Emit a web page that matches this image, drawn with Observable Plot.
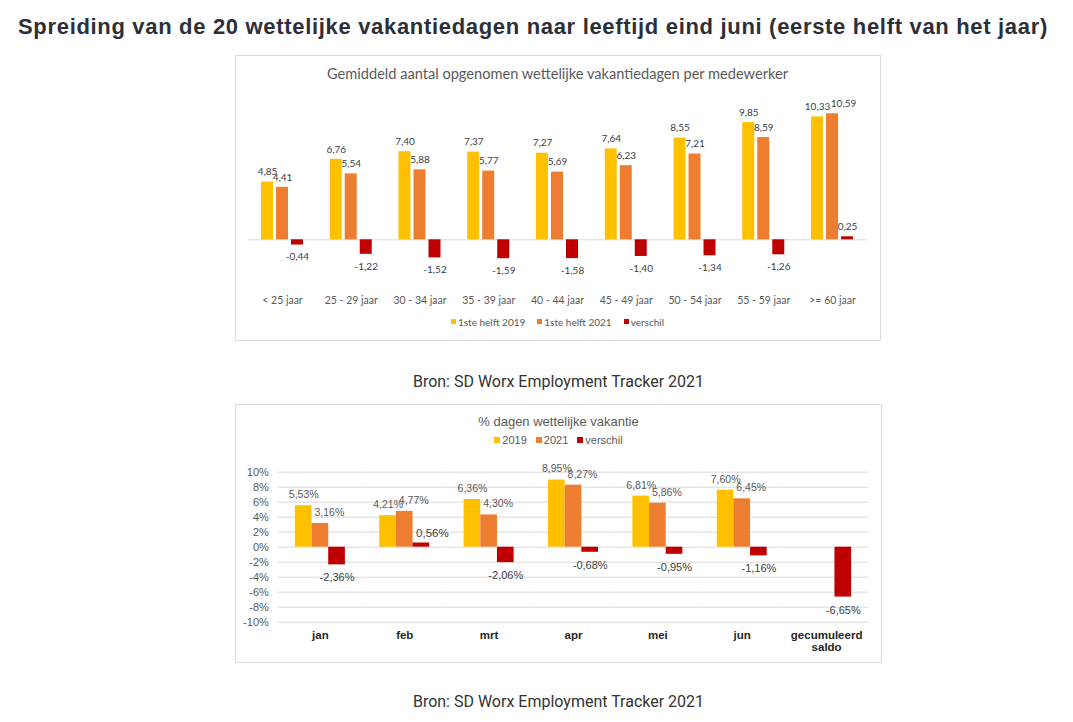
<!DOCTYPE html>
<html>
<head>
<meta charset="utf-8">
<script src="https://cdn.jsdelivr.net/npm/d3@7"></script>
<script src="https://cdn.jsdelivr.net/npm/@observablehq/plot@0.6"></script>
<style>
  html, body { margin: 0; padding: 0; background: #fff; }
  body { position: relative; width: 1073px; height: 722px; overflow: hidden; }
  .abs { position: absolute; white-space: nowrap; }
  #title { left: 18px; top: 15px; font: bold 22px/24px "Liberation Sans", Arial, sans-serif; letter-spacing: 0.68px; color: #2c2f3a; }
  .box { position: absolute; box-sizing: border-box; border: 1px solid #dcdcdc; }
  .caption { font: 16px/18px Roboto, sans-serif; color: #333; text-align: center; }
  .legend { display: flex; justify-content: center; align-items: center; }
  .legend .item { display: flex; align-items: center; }
  .legend .sw { display: inline-block; width: 5px; height: 5px; margin-right: 2px; }
  #c1title { font: 14.6px/16px Lato, sans-serif; color: #595959; text-align: center; }
  #c1legend { font: 10px/12px Lato, sans-serif; color: #595959; gap: 12px; }
  #c2title { font: 13px/16px "Liberation Sans", Arial, sans-serif; color: #595959; text-align: center; }
  #c2legend { font: 11px/12px "Liberation Sans", Arial, sans-serif; color: #595959; gap: 9px; }
  #c2legend .sw { width: 6px; height: 6px; }
  #plot1 g[aria-label="fx-axis tick label"] { font-size: 10.5px; fill: #595959; }
  #plot2 g[aria-label="fx-axis tick label"] { font-weight: bold; font-size: 11.5px; fill: #262626; }
  #plot2 g[aria-label="y-axis tick label"] { font-size: 11px; fill: #595959; }
</style>
</head>
<body>
<div id="title" class="abs">Spreiding van de 20 wettelijke vakantiedagen naar leeftijd eind juni (eerste helft van het jaar)</div>

<div class="box" style="left:235px;top:55px;width:646px;height:286px;"></div>
<div id="c1title" class="abs" style="left:235px;top:66px;width:645px;">Gemiddeld aantal opgenomen wettelijke vakantiedagen per medewerker</div>
<div id="plot1" class="abs" style="left:235px;top:55px;"></div>
<div id="c1legend" class="abs legend" style="left:235px;top:315.7px;width:645px;"></div>

<div class="caption abs" style="left:235px;top:372.5px;width:647px;">Bron: SD Worx Employment Tracker 2021</div>

<div class="box" style="left:235px;top:404px;width:647px;height:259px;"></div>
<div id="c2title" class="abs" style="left:235px;top:414.3px;width:647px;">% dagen wettelijke vakantie</div>
<div id="c2legend" class="abs legend" style="left:235px;top:434px;width:647px;"></div>
<div id="plot2" class="abs" style="left:235px;top:404px;"></div>

<div class="caption abs" style="left:235px;top:693px;width:647px;">Bron: SD Worx Employment Tracker 2021</div>

<script>
// ---------- Chart 1 data ----------
const ageGroups = ["< 25 jaar", "25 - 29 jaar", "30 - 34 jaar", "35 - 39 jaar", "40 - 44 jaar", "45 - 49 jaar", "50 - 54 jaar", "55 - 59 jaar", ">= 60 jaar"];
const series1 = ["1ste helft 2019", "1ste helft 2021", "verschil"];
const days2019 = [4.85, 6.76, 7.40, 7.37, 7.27, 7.64, 8.55, 9.85, 10.33];
const days2021 = [4.41, 5.54, 5.88, 5.77, 5.69, 6.23, 7.21, 8.59, 10.59];
const daysDiff = [-0.44, -1.22, -1.52, -1.59, -1.58, -1.40, -1.34, -1.26, 0.25];

// ---------- Chart 2 data ----------
const months = ["jan", "feb", "mrt", "apr", "mei", "jun", "gecumuleerd\nsaldo"];
const series2 = ["2019", "2021", "verschil"];
const pct2019 = [5.53, 4.21, 6.36, 8.95, 6.81, 7.60, null];
const pct2021 = [3.16, 4.77, 4.30, 8.27, 5.86, 6.45, null];
const pctDiff = [-2.36, 0.56, -2.06, -0.68, -0.95, -1.16, -6.65];
const yTicks2 = [-10, -8, -6, -4, -2, 0, 2, 4, 6, 8, 10];

const colors = ["#FFC000", "#ED7D31", "#C00000"];

const fmt = v => v.toFixed(2).replace(".", ",");

// ---------- Build tables ----------
const c1Values = [days2019, days2021, daysDiff];
const c1Data = series1.flatMap((s, si) => ageGroups.map((g, i) => ({group: g, series: s, value: c1Values[si][i]})));

const c2Values = [pct2019, pct2021, pctDiff];
const c2Data = series2.flatMap((s, si) => months.map((m, i) => ({month: m, series: s, value: c2Values[si][i]})))
  .filter(d => d.value != null);

// ---------- Chart 1 ----------
// Excel moved the label of the last 2021 bar to the right to avoid overlap
const lastGroup = ageGroups[ageGroups.length - 1];
const isMoved = d => d.group === lastGroup && d.series === series1[1];
const pos1 = c1Data.filter(d => d.value >= 0);
const plot1 = Plot.plot({
  width: 645, height: 285,
  marginLeft: 12.6, marginRight: 13.6, marginTop: 41.5, marginBottom: 53.1,
  style: {fontFamily: "Lato, sans-serif", fontSize: "10px", color: "#595959", background: "transparent", overflow: "visible"},
  fx: {domain: ageGroups, paddingInner: 0.302, paddingOuter: 0.151, round: false, label: null, tickSize: 0, tickPadding: 9.5, axis: "bottom"},
  x: {domain: series1, padding: 0.2, round: false, axis: null},
  y: {domain: [-4, 12], axis: null},
  color: {domain: series1, range: colors},
  marks: [
    Plot.ruleY([0], {stroke: "#d9d9d9", strokeWidth: 1, insetLeft: -10.4, insetRight: -10.4}),
    Plot.barY(c1Data, {fx: "group", x: "series", y: "value", fill: "series"}),
    Plot.text(pos1.filter(d => !isMoved(d)), {fx: "group", x: "series", y: "value", text: d => fmt(d.value), dy: -10, fill: "#404040"}),
    Plot.text(pos1.filter(isMoved), {fx: "group", x: "series", y: "value", text: d => fmt(d.value), dy: -10, dx: 11, fill: "#404040"}),
    Plot.text(c1Data.filter(d => d.value < 0), {fx: "group", x: "series", y: "value", text: d => fmt(d.value), dy: 12, fill: "#404040"})
  ]
});
document.getElementById("plot1").append(plot1);

// ---------- Chart 2 ----------
const pos2 = c2Data.filter(d => d.value >= 0);
const plot2 = Plot.plot({
  width: 647, height: 258,
  marginLeft: 42.7, marginRight: 13.7, marginTop: 67.7, marginBottom: 40.3,
  style: {fontFamily: "'Liberation Sans', Arial, sans-serif", fontSize: "10.5px", color: "#595959", background: "transparent", overflow: "visible"},
  fx: {domain: months, paddingInner: 0.4076, paddingOuter: 0.2038, round: false, label: null, tickSize: 0, tickPadding: 9, axis: "bottom"},
  x: {domain: series2, padding: 0, round: false, axis: null},
  y: {domain: [-10, 10], ticks: yTicks2, tickFormat: d => `${d}%`, tickSize: 0, tickPadding: 26.6, label: null},
  color: {domain: series2, range: colors},
  marks: [
    Plot.ruleY(yTicks2, {stroke: "#d9d9d9", strokeWidth: 1, insetLeft: -17.19, insetRight: -17.19}),
    Plot.barY(c2Data, {fx: "month", x: "series", y: "value", fill: "series"}),
    Plot.text(pos2.filter(d => d.series === "2019"), {fx: "month", x: "series", y: "value", text: d => fmt(d.value) + "%", dy: -11, fill: "#595959"}),
    Plot.text(pos2.filter(d => d.series === "2021"), {fx: "month", x: "series", y: "value", text: d => fmt(d.value) + "%", dy: -11, dx: 9, fill: "#595959"}),
    Plot.text(pos2.filter(d => d.series === "verschil"), {fx: "month", x: "series", y: "value", text: d => fmt(d.value) + "%", dy: -10, dx: 11, fill: "#404040", fontSize: 11.5}),
    Plot.text(c2Data.filter(d => d.value < 0), {fx: "month", x: "series", y: "value", text: d => fmt(d.value) + "%", dy: 13, fill: "#404040", fontSize: 11})
  ]
});
document.getElementById("plot2").append(plot2);

// ---------- Legends ----------
function legend(id, names) {
  const el = document.getElementById(id);
  names.forEach((n, i) => {
    const item = document.createElement("span");
    item.className = "item";
    const sw = document.createElement("span");
    sw.className = "sw";
    sw.style.background = colors[i];
    item.append(sw, document.createTextNode(n));
    el.append(item);
  });
}
legend("c1legend", series1);
legend("c2legend", series2);
</script>
</body>
</html>
